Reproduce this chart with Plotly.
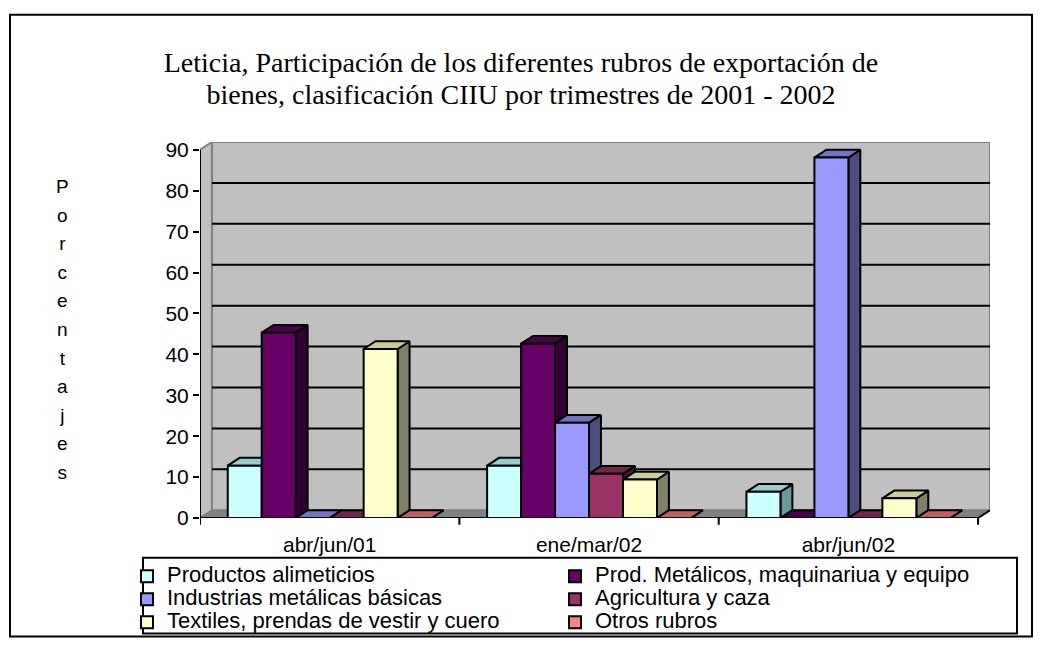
import plotly.graph_objects as go

# ---------------- data ----------------
categories = ["abr/jun/01", "ene/mar/02", "abr/jun/02"]
series_names = [
    "Productos alimeticios",
    "Prod. Metálicos, maquinariua y equipo",
    "Industrias metálicas básicas",
    "Agricultura y caza",
    "Textiles, prendas de vestir y cuero",
    "Otros rubros",
]
productos = [12.8, 12.8, 6.4]
prod_metalicos = [45.3, 42.6, 0.0]
industrias = [0.0, 23.3, 88.1]
agricultura = [0.0, 10.8, 0.0]
textiles = [41.3, 9.4, 4.8]
otros = [0.0, 0.0, 0.0]
y_ticks = [0, 10, 20, 30, 40, 50, 60, 70, 80, 90]
title_lines = ["Leticia, Participación de los diferentes rubros de exportación de",
               "bienes, clasificación CIIU por trimestres de 2001 - 2002"]
y_title = "Porcentajes"

values = [productos, prod_metalicos, industrias, agricultura, textiles, otros]

# ---------------- styles ----------------
front_colors = ["#CCFFFF", "#660066", "#9999FF", "#993366", "#FFFFCC", "#FF8080"]
top_colors = ["#99CCCC", "#4C004C", "#7373BF", "#73264C", "#CCCC99", "#C06060"]
side_colors = ["#669999", "#330033", "#4D4D80", "#4D1A33", "#808066", "#804040"]

W = 0.131      # bar width (category units)
DX = 0.046     # depth offset x (category units)
DY = 1.9       # depth offset y (value units)
YMAX = 90

FIG_W, FIG_H = 1026, 644
L, T = 192, 134
PLOT_BOTTOM = 521
PLOT_RIGHT = 982
R = FIG_W - PLOT_RIGHT
B = FIG_H - PLOT_BOTTOM
PW = PLOT_RIGHT - L
PH = PLOT_BOTTOM - T


def fx(px):
    return (px - L) / PW


def fy(py):
    return (PLOT_BOTTOM - py) / PH


fig = go.Figure()
n = len(values)
for j, (name, vals) in enumerate(zip(series_names, values)):
    xs = [i + (j - (n - 1) / 2) * W for i in range(len(categories))]
    sx, sy, tx, ty = [], [], [], []
    for x, v in zip(xs, vals):
        xr = x + W / 2
        xl = x - W / 2
        sx += [xr, xr + DX, xr + DX, xr, xr, None]
        sy += [0, DY, v + DY, v, 0, None]
        tx += [xl, xr, xr + DX, xl + DX, xl, None]
        ty += [v, v, v + DY, v + DY, v, None]
    fig.add_trace(go.Scatter(
        x=sx, y=sy, mode="lines", fill="toself", fillcolor=side_colors[j],
        line=dict(color="black", width=2), showlegend=False, hoverinfo="skip",
        zorder=3 * j))
    fig.add_trace(go.Scatter(
        x=tx, y=ty, mode="lines", fill="toself", fillcolor=top_colors[j],
        line=dict(color="black", width=2), showlegend=False, hoverinfo="skip",
        zorder=3 * j + 1))
    fig.add_trace(go.Bar(
        x=xs, y=vals, width=W,
        name=f"<span style='font-size:22px'>{name}</span>",
        marker=dict(color=front_colors[j], line=dict(color="black", width=2)),
        zorder=3 * j + 2))

shapes = []
shapes.append(dict(type="rect", xref="x", yref="y", x0=-0.5 + DX, x1=2.5 + DX,
                   y0=DY, y1=YMAX + DY, fillcolor="#C0C0C0",
                   line=dict(color="#808080", width=2), layer="below"))
shapes.append(dict(type="path", xref="x", yref="y",
                   path=f"M {-0.5},0 L {-0.5 + DX},{DY} L {-0.5 + DX},{YMAX + DY} L {-0.5},{YMAX} Z",
                   fillcolor="#C0C0C0", line=dict(color="#808080", width=2), layer="below"))
shapes.append(dict(type="path", xref="x", yref="y",
                   path=f"M {-0.5},0 L 2.5,0 L {2.5 + DX},{DY} L {-0.5 + DX},{DY} Z",
                   fillcolor="#808080", line=dict(color="#808080", width=1), layer="below"))
for v in y_ticks[1:-1]:
    shapes.append(dict(type="line", xref="x", yref="y", x0=-0.5 + DX, x1=2.5 + DX,
                       y0=v + DY, y1=v + DY, line=dict(color="black", width=2),
                       layer="below"))
shapes.append(dict(type="line", xref="x", yref="y", x0=-0.5, x1=-0.5, y0=0, y1=YMAX,
                   line=dict(color="black", width=2), layer="above"))
shapes.append(dict(type="line", xref="x", yref="y", x0=-0.5, x1=2.5, y0=0, y1=0,
                   line=dict(color="black", width=2), layer="above"))
shapes.append(dict(type="line", xref="x", yref="y", x0=2.5, x1=2.5 + DX, y0=0, y1=DY,
                   line=dict(color="black", width=2), layer="above"))
for b in [-0.5, 0.5, 1.5, 2.5]:
    shapes.append(dict(type="line", xref="x", yref="paper", x0=b, x1=b,
                       y0=0, y1=-7 / PH,
                       line=dict(color="black", width=2), layer="above"))
# outer frame
shapes.append(dict(type="rect", xref="paper", yref="paper",
                   x0=fx(2), x1=fx(1024), y0=fy(643), y1=fy(3),
                   line=dict(color="black", width=2), fillcolor="rgba(0,0,0,0)"))
# legend box
shapes.append(dict(type="rect", xref="paper", yref="paper",
                   x0=fx(135), x1=fx(1009), y0=fy(640), y1=fy(562),
                   line=dict(color="black", width=2), fillcolor="rgba(0,0,0,0)"))

letters = "<br>".join(f"<span style='font-size:19px'>{c}</span>" for c in y_title)
title_text = "<br>".join(f"<span style='font-size:28px'>{t}</span>" for t in title_lines)

fig.update_layout(
    width=FIG_W, height=FIG_H, autosize=False,
    margin=dict(l=L, r=R, t=T, b=B, pad=0),
    paper_bgcolor="white", plot_bgcolor="white",
    barmode="overlay",
    font=dict(family="Liberation Sans, Arial", size=20, color="black"),
    title=dict(text=title_text, x=0.5, xref="container", xanchor="center",
               y=1 - 64 / FIG_H, yref="container", yanchor="top",
               font=dict(family="Liberation Serif, Times New Roman", size=24.6, color="black")),
    xaxis=dict(range=[-0.5, 2.5 + DX], tickvals=[0, 1, 2], ticktext=categories,
               showgrid=False, zeroline=False, showline=False, ticks="",
               ticklabelstandoff=12, tickfont=dict(size=21), fixedrange=True),
    yaxis=dict(range=[0, YMAX + DY], tickvals=y_ticks, showgrid=False, zeroline=False,
               showline=False, ticks="outside", ticklen=6, tickwidth=2, tickcolor="black",
               tickfont=dict(size=21), fixedrange=True),
    legend=dict(orientation="h", x=fx(119), y=fy(564),
                xanchor="left", yanchor="top", bgcolor="rgba(0,0,0,0)", borderwidth=0,
                entrywidth=383, entrywidthmode="pixels", traceorder="normal",
                font=dict(size=15.4), tracegroupgap=0),
    shapes=shapes,
    annotations=[dict(text=letters, xref="paper", yref="paper",
                      x=fx(54), y=fy(327),
                      xanchor="center", yanchor="middle", showarrow=False,
                      font=dict(size=22), align="center")],
)

fig.write_html("out.html")
